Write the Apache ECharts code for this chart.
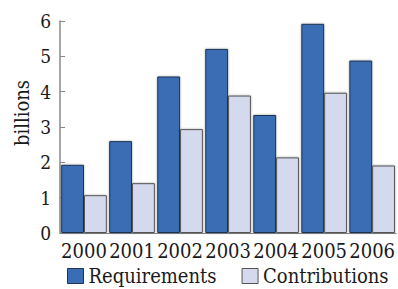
<!DOCTYPE html>
<html><head><meta charset="utf-8">
<script src="https://cdn.jsdelivr.net/npm/echarts@6/dist/echarts.min.js"></script>
<style>html,body{margin:0;padding:0;background:#fff}#c{width:398px;height:289px}</style>
</head><body><div id="c"></div>
<script>
var years = ['2000','2001','2002','2003','2004','2005','2006'];
var requirements = [1.93, 2.6, 4.43, 5.21, 3.34, 5.92, 4.88];
var contributions = [1.07, 1.41, 2.94, 3.89, 2.14, 3.97, 1.91];
var yTicks = [0, 1, 2, 3, 4, 5, 6];

var font = 'DejaVu Serif Condensed, DejaVu Serif';
var chart = echarts.init(document.getElementById('c'), null, {renderer: 'svg'});
chart.setOption({
  animation: false,
  textStyle: {fontFamily: font},
  grid: {left: 60, right: 1, top: 21, bottom: 56},
  legend: {
    left: 67, top: 266, width: 331, padding: 0, itemWidth: 16, itemHeight: 15, itemGap: 25,
    textStyle: {fontFamily: font, fontSize: 20, color: '#1a1a1a'},
    data: [
      {name: 'Requirements', icon: 'rect', itemStyle: {borderColor: '#1f3354', borderWidth: 1}},
      {name: 'Contributions', icon: 'rect', itemStyle: {borderColor: '#555', borderWidth: 1}}
    ]
  },
  graphic: [{
    type: 'text', x: 22, y: 113, rotation: Math.PI / 2,
    style: {text: 'billions', fontFamily: font, fontSize: 20, fill: '#1a1a1a', align: 'center', verticalAlign: 'middle'}
  }],
  xAxis: {
    type: 'category', data: years,
    axisLine: {show: true, lineStyle: {color: '#888', width: 1}},
    axisTick: {show: false},
    axisLabel: {fontFamily: font, fontSize: 20, color: '#1a1a1a', margin: 8, interval: 0}
  },
  yAxis: {
    type: 'value', min: yTicks[0], max: yTicks[yTicks.length - 1], interval: 1,
    splitLine: {show: false},
    axisLine: {show: true, lineStyle: {color: '#888', width: 1.5}},
    axisTick: {show: true, inside: true, length: 5, lineStyle: {color: '#888'}},
    axisLabel: {fontFamily: font, fontSize: 19, color: '#1a1a1a', margin: 9}
  },
  series: [
    {name: 'Requirements', type: 'bar', data: requirements, barGap: '0%', barCategoryGap: '5%',
      itemStyle: {color: '#3a6db5', borderColor: '#1f3354', borderWidth: 1, shadowColor: 'rgba(0,0,0,0.35)', shadowBlur: 2}},
    {name: 'Contributions', type: 'bar', data: contributions, barGap: '0%', barCategoryGap: '5%',
      itemStyle: {color: '#d5d9ee', borderColor: '#555', borderWidth: 1, shadowColor: 'rgba(0,0,0,0.35)', shadowBlur: 2}}
  ]
});
</script></body></html>
